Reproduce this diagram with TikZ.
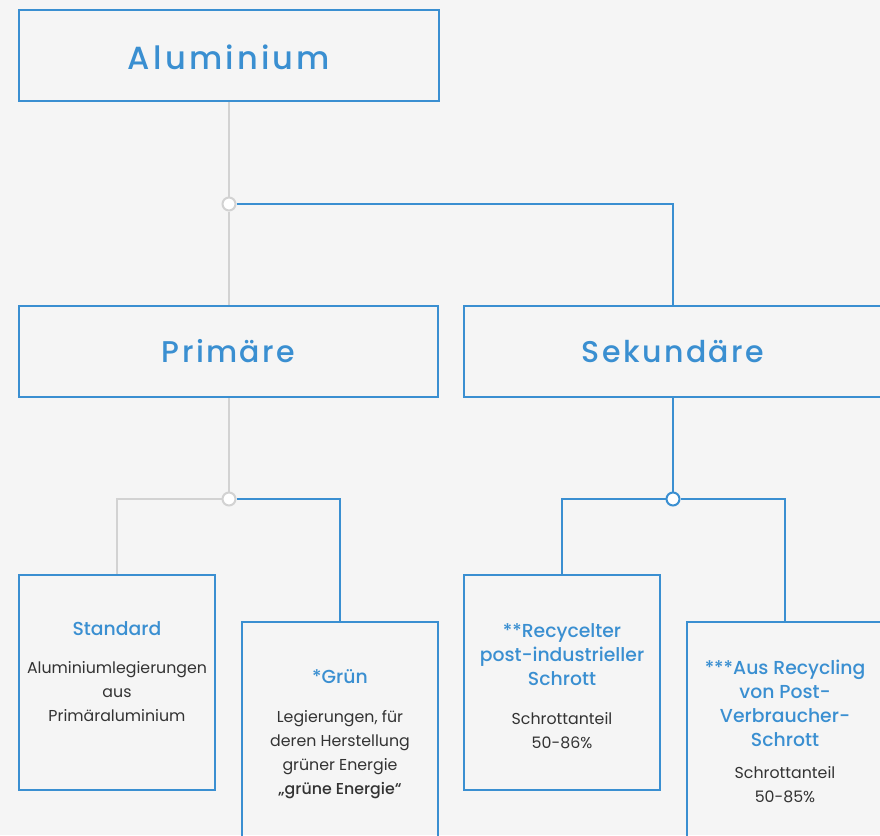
\documentclass[tikz,border=0pt]{standalone}
\usepackage{fontspec}
\setmainfont{Poppins}
\newfontfamily\headfont[LetterSpace=8]{Poppins Medium}
\newfontfamily\aluheadfont[LetterSpace=10]{Poppins Medium}
\newfontfamily\medfont{Poppins Medium}
\definecolor{bl}{HTML}{3A8FD1}
\definecolor{gr}{HTML}{D2D2D2}
\definecolor{bgc}{HTML}{F5F5F5}
\definecolor{tx}{HTML}{333333}
\tikzset{
  box/.style={draw=bl, line width=2pt, inner sep=0pt, rectangle},
  bigbox/.style={box, minimum height=91pt, font=\headfont\fontsize{30}{36}\selectfont, text=bl},
  smallbox/.style={box, minimum width=196pt},
  ttl/.style={font=\medfont\fontsize{18.8}{24}\selectfont, text=bl, align=center, inner sep=0pt},
  body/.style={font=\fontsize{15.8}{24}\selectfont, text=tx, align=center, inner sep=0pt},
  gline/.style={draw=gr, line width=2pt},
  bline/.style={draw=bl, line width=2pt},
  jg/.style={circle, draw=gr, fill=white, line width=2pt, minimum size=13pt, inner sep=0pt},
  jb/.style={circle, draw=bl, fill=white, line width=2pt, minimum size=13pt, inner sep=0pt}
}
\begin{document}
\begin{tikzpicture}[x=1pt,y=-1pt]
\fill[bgc] (0,0) rectangle (880,835);
\useasboundingbox (0,0) rectangle (880,835);
\clip (0,0) rectangle (880,835);
% boxes
\node[box, minimum width=420pt, minimum height=91pt] (alu) at (229,55.5) {};
\node[font=\aluheadfont\fontsize{32}{38}\selectfont, text=bl, inner sep=0pt] (alut) at (229,57) {Aluminium};
\node[bigbox, minimum width=419pt] (prim) at (228.5,351.5) {Primäre};
\node[bigbox, minimum width=418pt] (sek) at (673,351.5) {};
\node[font=\headfont\fontsize{30}{36}\selectfont, text=bl, inner sep=0pt] (sekt) at (673,351.5) {Sekundäre};
\node[smallbox, minimum height=215pt] (std) at (117,682.5) {};
\node[smallbox, minimum height=228pt] (gruen) at (340,736) {};
\node[smallbox, minimum height=215pt] (rec) at (562,682.5) {};
\node[smallbox, minimum height=228pt] (aus) at (785,736) {};
% junctions
\node[jg] (j1) at (229,204) {};
\node[jg] (j2) at (229,499) {};
\node[jb] (j3) at (673,499) {};
% connectors
\draw[gline] (alu.south) -- (j1.north);
\draw[gline] (j1.south) -- (j1 |- prim.north);
\draw[bline] (j1.east) -| (sek.north);
\draw[gline] (prim.south -| j2) -- (j2.north);
\draw[gline] (j2.west) -| (std.north);
\draw[bline] (j2.east) -| (gruen.north);
\draw[bline] (sek.south) -- (j3.north);
\draw[bline] (j3.west) -| (rec.north);
\draw[bline] (j3.east) -| (aus.north);
% texts
\node[ttl] (tstd) at (117,629) {Standard};
\node[body, anchor=north] (bstd) at (117,661.5) {Aluminiumlegierungen\\aus\\Primäraluminium};
\node[ttl] (tgr) at (340,677) {*Grün};
\node[body, anchor=north] (bgr) at (340,710.5) {Legierungen, für\\deren Herstellung\\grüner Energie\\{\medfont„grüne Energie“}};
\node[ttl, anchor=north] (trec) at (562,623.5) {**Recycelter\\post-industrieller\\Schrott};
\node[body, anchor=north] (brec) at (562,712.5) {Schrottanteil\\50-86\%};
\node[ttl, anchor=north] (taus) at (785,659.5) {***Aus Recycling\\von Post-\\Verbraucher-\\Schrott};
\node[body, anchor=north] (baus) at (785,766.5) {Schrottanteil\\50-85\%};
\end{tikzpicture}
\end{document}
